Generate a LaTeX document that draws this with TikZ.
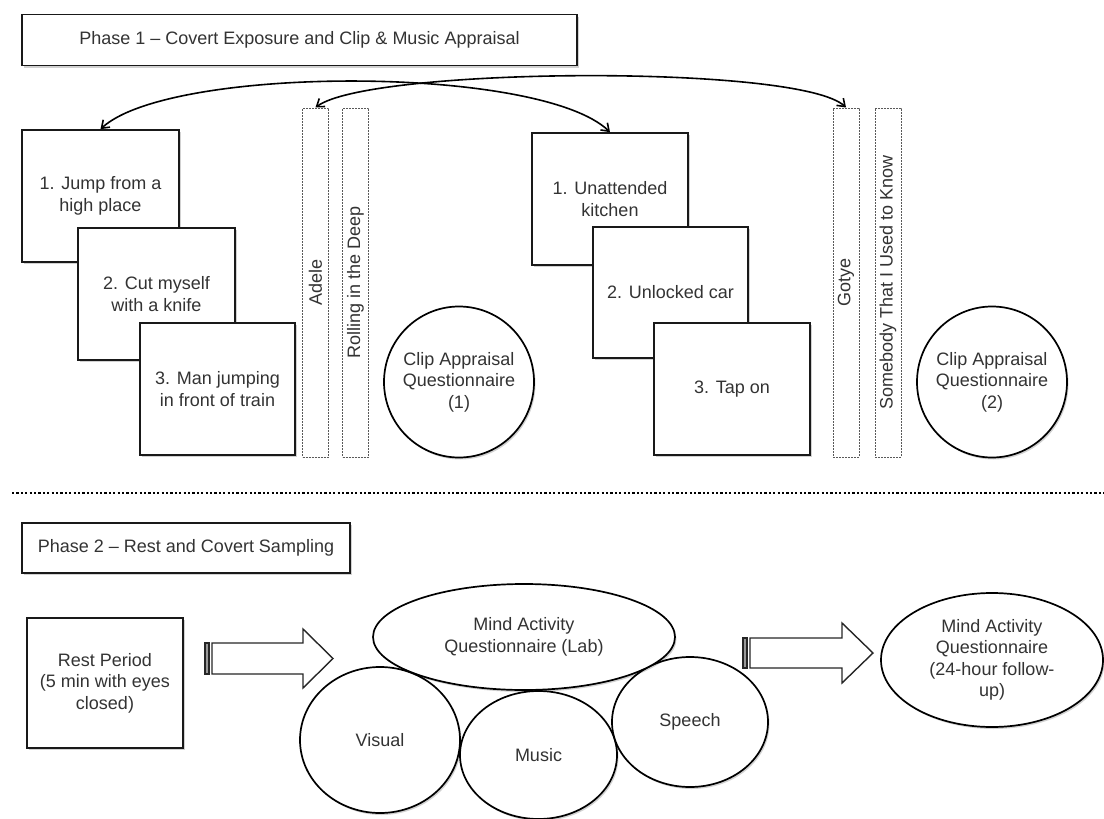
\documentclass[tikz,border=0pt]{standalone}
\usepackage{fontspec}
\setmainfont{Liberation Sans}
\usetikzlibrary{arrows.meta,shapes.geometric,shadows}
\begin{document}
\begin{tikzpicture}[x=1pt,y=-1pt,
  every node/.style={font=\fontsize{18}{21.5}\selectfont, text=black!80},
  shad/.style={drop shadow={shadow xshift=1.5pt, shadow yshift=-2pt, opacity=0.18, fill=black}},
  sqbox/.style={draw=black!90, line width=1.7pt, fill=white, inner sep=0pt, align=center, shad},
  songbox/.style={draw=black!65, line width=1pt, dash pattern=on 2pt off 1pt, fill=white, inner sep=0pt, minimum width=26pt, minimum height=349pt},
  oval/.style={ellipse, draw=black, line width=1.7pt, fill=white, inner sep=0pt, shad},
  txt/.style={align=center, inner sep=0pt},
  vtxt/.style={rotate=90, inner sep=0pt},
  link/.style={line width=1.6pt, {Straight Barb[length=7pt,width=10pt]}-{Straight Barb[length=7pt,width=10pt]}},
  blockarrow/.style={draw=black!85, line width=1.4pt, fill=white},
  stripe/.style={draw=black!85, line width=1.2pt, fill=black!40},
  sep/.style={line width=2.5pt, dash pattern=on 2.2pt off 2.2pt}
]
\useasboundingbox (0,0) rectangle (1104,819);

% ---------- Phase 1 ----------
\node[sqbox, minimum width=555pt, minimum height=51pt] (ph1) at (299.5,40) {Phase 1 – Covert Exposure and Clip \& Music Appraisal};

\node[sqbox, minimum width=157pt, minimum height=132pt] (a1) at (100.5,196) {1. Jump from a\\high place};
\node[sqbox, minimum width=157pt, minimum height=132pt] (a2) at (156.5,294) {2. Cut myself\\with a knife};
\node[sqbox, minimum width=155pt, minimum height=132pt] (a3) at (217.5,389) {3. Man jumping\\in front of train};

\node[songbox] (adele) at (315.5,282.5) {};
\node[vtxt] at (adele) {Adele};
\node[songbox] (rolling) at (355.5,282.5) {};
\node[vtxt] at (rolling) {Rolling in the Deep};

\node[oval, minimum width=150pt, minimum height=151pt] (c1) at (459,382) {};
\node[txt] at (c1) {Clip Appraisal\\Questionnaire\\(1)};

\node[sqbox, minimum width=156pt, minimum height=132pt] (b1) at (610,199) {1. Unattended\\kitchen};
\node[sqbox, minimum width=155pt, minimum height=131pt] (b2) at (670.5,292.5) {2. Unlocked car};
\node[sqbox, minimum width=156pt, minimum height=132pt] (b3) at (732,389) {3. Tap on};

\node[songbox] (gotye) at (846,282.5) {};
\node[vtxt] at (gotye) {Gotye};
\node[songbox] (somebody) at (888,282.5) {};
\node[vtxt] at (somebody) {Somebody That I Used to Know};

\node[oval, minimum width=150pt, minimum height=151pt] (c2) at (992,382) {};
\node[txt] at (c2) {Clip Appraisal\\Questionnaire\\(2)};

\draw[link] (a1.north) .. controls (170,65) and (540,65) .. (b1.north);
\draw[link] (adele.north) .. controls (370,67) and (800,64) .. (gotye.north);

% ---------- separator ----------
\coordinate (sepL) at (12,493);
\coordinate (sepR) at (1104,493);
\draw[sep] (sepL) -- (sepR);

% ---------- Phase 2 ----------
\node[sqbox, minimum width=328pt, minimum height=50pt] (ph2) at (186,548) {Phase 2 – Rest and Covert Sampling};

\node[sqbox, minimum width=156pt, minimum height=130pt] (rest) at (105,683) {Rest Period\\(5 min with eyes\\closed)};

% block arrow 1
\draw[stripe] (205,643) rectangle (209,674);
\draw[blockarrow] (212,643) -- (303,643) -- (303,629) -- (333,658.5) -- (303,688) -- (303,674) -- (212,674) -- cycle;

\node[oval, minimum width=160pt, minimum height=146pt] (visual) at (380,740) {};
\node[txt] at (visual) {Visual};
\node[oval, minimum width=157pt, minimum height=128pt] (music) at (538.5,755) {};
\node[txt] at (music) {Music};
\node[oval, minimum width=156pt, minimum height=130pt] (speech) at (690,722) {};
\node[txt] at (speech) {Speech};
\node[oval, minimum width=302pt, minimum height=106pt] (lab) at (524,637) {};
\node[txt] at (lab) {Mind Activity\\Questionnaire (Lab)};

% block arrow 2
\draw[stripe] (743,638) rectangle (747,668);
\draw[blockarrow] (750,638) -- (842,638) -- (842,623) -- (873,653) -- (842,683) -- (842,668) -- (750,668) -- cycle;

\node[oval, minimum width=222pt, minimum height=134pt] (fu) at (992,660) {};
\node[txt] at (fu) {Mind Activity\\Questionnaire\\(24-hour follow-\\up)};
\end{tikzpicture}
\end{document}
